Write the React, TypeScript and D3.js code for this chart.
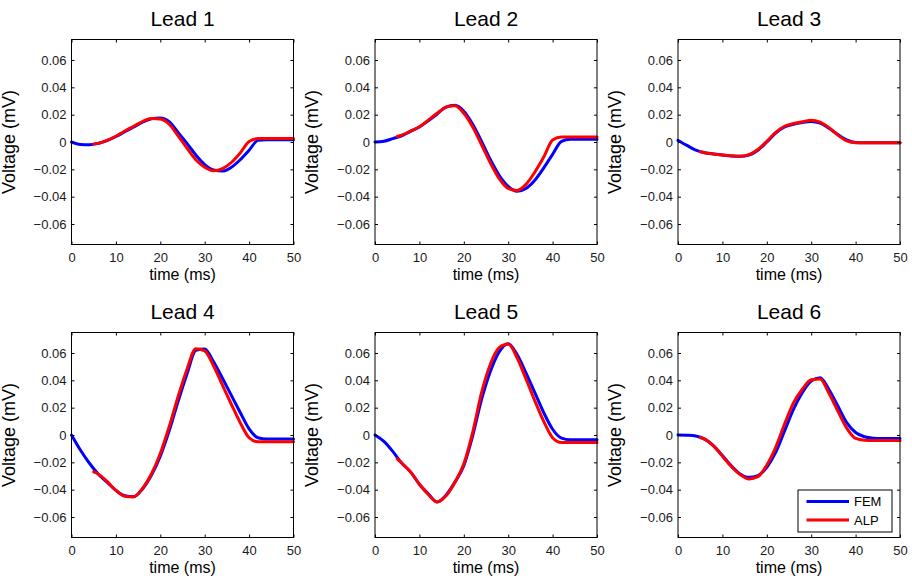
import React, { useEffect, useRef } from 'react';
import * as d3 from 'd3';

// sample times (ms)
const timeFEM = [0, 2, 4, 6, 8, 10, 12, 14, 16, 18, 20, 22, 24, 26, 28, 30, 32, 34, 36, 38, 40, 42, 44, 46, 48, 50];
const timeALP = [5, 6, 8, 10, 12, 14, 16, 18, 20, 22, 24, 26, 28, 30, 32, 34, 36, 38, 40, 42, 44, 46, 48, 50];

const leadNames = ['Lead 1', 'Lead 2', 'Lead 3', 'Lead 4', 'Lead 5', 'Lead 6'];
const seriesNames = ['FEM', 'ALP'];
const seriesColors = ['#0000ff', '#ff0000'];
const xTicks = [0, 10, 20, 30, 40, 50];
const yTicks = [-0.06, -0.04, -0.02, 0, 0.02, 0.04, 0.06];

// voltage (mV), FEM model
const femLead1 = [0, -0.0018, -0.002, -0.001, 0.001, 0.004, 0.0075, 0.011, 0.0145, 0.017, 0.0176, 0.0148, 0.007, -0.001, -0.0095, -0.0165, -0.0205, -0.0213, -0.0185, -0.013, -0.006, 0.0012, 0.0017, 0.0017, 0.0017, 0.0017];
const femLead2 = [0, 0.0006, 0.0025, 0.0045, 0.0078, 0.011, 0.0155, 0.0205, 0.0255, 0.0268, 0.0225, 0.013, 0.0005, -0.013, -0.0245, -0.0325, -0.036, -0.034, -0.028, -0.019, -0.009, 0.0005, 0.002, 0.002, 0.002, 0.002];
const femLead3 = [0.0012, -0.0025, -0.006, -0.0078, -0.0087, -0.0095, -0.0102, -0.0105, -0.0095, -0.006, 0.0, 0.0065, 0.011, 0.013, 0.0143, 0.015, 0.0138, 0.01, 0.0055, 0.0015, -0.0003, -0.0005, -0.0005, -0.0005, -0.0005, -0.0005];
const femLead4 = [0, -0.011, -0.0205, -0.0285, -0.0345, -0.0405, -0.0445, -0.0452, -0.0395, -0.0295, -0.0155, 0.003, 0.0245, 0.0445, 0.062, 0.063, 0.0535, 0.0415, 0.029, 0.0165, 0.0045, -0.002, -0.003, -0.003, -0.003, -0.003];
const femLead5 = [0, -0.0047, -0.012, -0.0205, -0.027, -0.036, -0.043, -0.049, -0.044, -0.0345, -0.0225, -0.0006, 0.026, 0.0467, 0.061, 0.0668, 0.0588, 0.0455, 0.031, 0.0164, 0.0042, -0.0023, -0.0035, -0.0035, -0.0035, -0.0035];
const femLead6 = [0, -0.0002, -0.0008, -0.003, -0.0079, -0.015, -0.0225, -0.0285, -0.031, -0.0297, -0.0236, -0.0127, 0.003, 0.0188, 0.031, 0.0394, 0.0418, 0.0333, 0.0212, 0.009, 0.0018, -0.0013, -0.0023, -0.0025, -0.0025, -0.0025];

// voltage (mV), ALP model
const alpLead1 = [-0.0015, -0.001, 0.0012, 0.0042, 0.008, 0.0115, 0.015, 0.0172, 0.0168, 0.013, 0.0045, -0.0045, -0.013, -0.0185, -0.021, -0.0195, -0.015, -0.008, 0.0003, 0.0025, 0.0025, 0.0025, 0.0025, 0.0025];
const alpLead2 = [0.004, 0.005, 0.008, 0.0112, 0.016, 0.021, 0.0255, 0.0265, 0.021, 0.011, -0.002, -0.0155, -0.027, -0.034, -0.0355, -0.031, -0.022, -0.011, 0.0015, 0.0037, 0.0037, 0.0037, 0.0037, 0.0037];
const alpLead3 = [-0.0072, -0.0078, -0.0088, -0.0095, -0.01, -0.0105, -0.0093, -0.0055, 0.0005, 0.007, 0.0115, 0.0135, 0.0148, 0.016, 0.0145, 0.0105, 0.005, 0.0008, -0.0005, -0.0005, -0.0005, -0.0005, -0.0005, -0.0005];
const alpLead4 = [-0.027, -0.0285, -0.034, -0.0405, -0.0448, -0.0452, -0.039, -0.0285, -0.0135, 0.006, 0.028, 0.048, 0.0632, 0.0615, 0.0505, 0.0365, 0.0225, 0.009, -0.002, -0.005, -0.005, -0.005, -0.005, -0.005];
const alpLead5 = [-0.0175, -0.0205, -0.027, -0.036, -0.0435, -0.049, -0.0445, -0.0345, -0.021, 0.002, 0.031, 0.052, 0.064, 0.0665, 0.0565, 0.041, 0.025, 0.01, -0.002, -0.0055, -0.0055, -0.0055, -0.0055, -0.0055];
const alpLead6 = [-0.0018, -0.003, -0.008, -0.0155, -0.023, -0.029, -0.0322, -0.0305, -0.022, -0.009, 0.008, 0.0235, 0.0335, 0.0405, 0.041, 0.0305, 0.0175, 0.005, -0.0025, -0.0038, -0.004, -0.004, -0.004, -0.004];

const femSeries = [femLead1, femLead2, femLead3, femLead4, femLead5, femLead6];
const alpSeries = [alpLead1, alpLead2, alpLead3, alpLead4, alpLead5, alpLead6];

function App() {
  const svgRef = useRef<SVGSVGElement>(null);

  useEffect(() => {
    const svg = d3.select(svgRef.current);
    svg.selectAll('*').remove();

    const font = "'Liberation Sans', Arial, Helvetica, sans-serif";
    const colLeft = [71.5, 375, 678];
    const rowTop = [39.5, 332.5];
    const pw = 222;
    const ph = 205;

    svg.append('rect').attr('width', 912).attr('height', 581).attr('fill', '#fff');

    leadNames.forEach((name, i) => {
      const left = colLeft[i % 3];
      const top = rowTop[Math.floor(i / 3)];
      const x = d3.scaleLinear().domain([0, 50]).range([left, left + pw]);
      const y = d3.scaleLinear().domain([-0.075, 0.075]).range([top + ph, top]);

      const line = d3
        .line<[number, number]>()
        .x((d) => x(d[0]))
        .y((d) => y(d[1]))
        .curve(d3.curveMonotoneX);

      const g = svg.append('g');

      // curves: FEM first, ALP on top
      const curves = [
        timeFEM.map((t, k) => [t, femSeries[i][k]] as [number, number]),
        timeALP.map((t, k) => [t, alpSeries[i][k]] as [number, number]),
      ];
      curves.forEach((pts, s) => {
        g.append('path')
          .attr('d', line(pts))
          .attr('fill', 'none')
          .attr('stroke', seriesColors[s])
          .attr('stroke-width', 3)
          .attr('stroke-linejoin', 'round')
          .attr('stroke-linecap', 'round');
      });

      // axes with inward ticks
      const styleAxis = (a: any) => {
        a.attr('color', '#000').attr('font-size', 13).attr('font-family', font);
        a.select('.domain').remove();
        a.selectAll('text').attr('fill', '#1a1a1a');
      };
      g.append('g')
        .attr('transform', `translate(0,${top + ph})`)
        .call(d3.axisBottom(x).tickValues(xTicks).tickSize(-3).tickPadding(8).tickFormat(d3.format('d')))
        .call(styleAxis);
      g.append('g')
        .attr('transform', `translate(${left},0)`)
        .call(
          d3
            .axisLeft(y)
            .tickValues(yTicks)
            .tickSize(-3)
            .tickPadding(5)
            .tickFormat((d: any) => (Math.abs(d) < 1e-9 ? '0' : d3.format('.2f')(d)))
        )
        .call(styleAxis);
      g.append('g')
        .attr('transform', `translate(0,${top})`)
        .call(d3.axisTop(x).tickValues(xTicks).tickSize(-3).tickFormat(() => ''))
        .call(styleAxis);
      g.append('g')
        .attr('transform', `translate(${left + pw},0)`)
        .call(d3.axisRight(y).tickValues(yTicks).tickSize(-3).tickFormat(() => ''))
        .call(styleAxis);

      g.append('rect')
        .attr('x', left)
        .attr('y', top)
        .attr('width', pw)
        .attr('height', ph)
        .attr('fill', 'none')
        .attr('stroke', '#000')
        .attr('stroke-width', 1);

      // title
      g.append('text')
        .attr('x', left + pw / 2)
        .attr('y', top - 13.5)
        .attr('text-anchor', 'middle')
        .attr('font-family', font)
        .attr('font-size', 21)
        .attr('fill', '#000')
        .text(name);

      // x label
      g.append('text')
        .attr('x', left + pw / 2)
        .attr('y', top + ph + 35)
        .attr('text-anchor', 'middle')
        .attr('font-family', font)
        .attr('font-size', 16)
        .attr('fill', '#000')
        .text('time (ms)');

      // y label
      g.append('text')
        .attr('transform', `translate(${left - 57},${top + ph / 2}) rotate(-90)`)
        .attr('text-anchor', 'middle')
        .attr('font-family', font)
        .attr('font-size', 18)
        .attr('fill', '#000')
        .text('Voltage (mV)');

      // legend in the last panel
      if (i === leadNames.length - 1) {
        const lw = 94;
        const lh = 42;
        const lx = left + pw - 8 - lw;
        const ly = top + ph - 5.5 - lh;
        const lg = g.append('g');
        lg.append('rect')
          .attr('x', lx)
          .attr('y', ly)
          .attr('width', lw)
          .attr('height', lh)
          .attr('fill', '#fff')
          .attr('stroke', '#000')
          .attr('stroke-width', 1);
        seriesNames.forEach((sn, s) => {
          const yy = ly + 11.5 + s * 18.5;
          lg.append('line')
            .attr('x1', lx + 8.5)
            .attr('x2', lx + 51)
            .attr('y1', yy)
            .attr('y2', yy)
            .attr('stroke', seriesColors[s])
            .attr('stroke-width', 3);
          lg.append('text')
            .attr('x', lx + 56)
            .attr('y', yy + 4.5)
            .attr('font-family', font)
            .attr('font-size', 13)
            .attr('fill', '#000')
            .text(sn);
        });
      }
    });
  }, []);

  return (
    <svg
      ref={svgRef}
      width={912}
      height={581}
      style={{ position: 'absolute', left: 0, top: 0, display: 'block' }}
    />
  );
}

export default App;
